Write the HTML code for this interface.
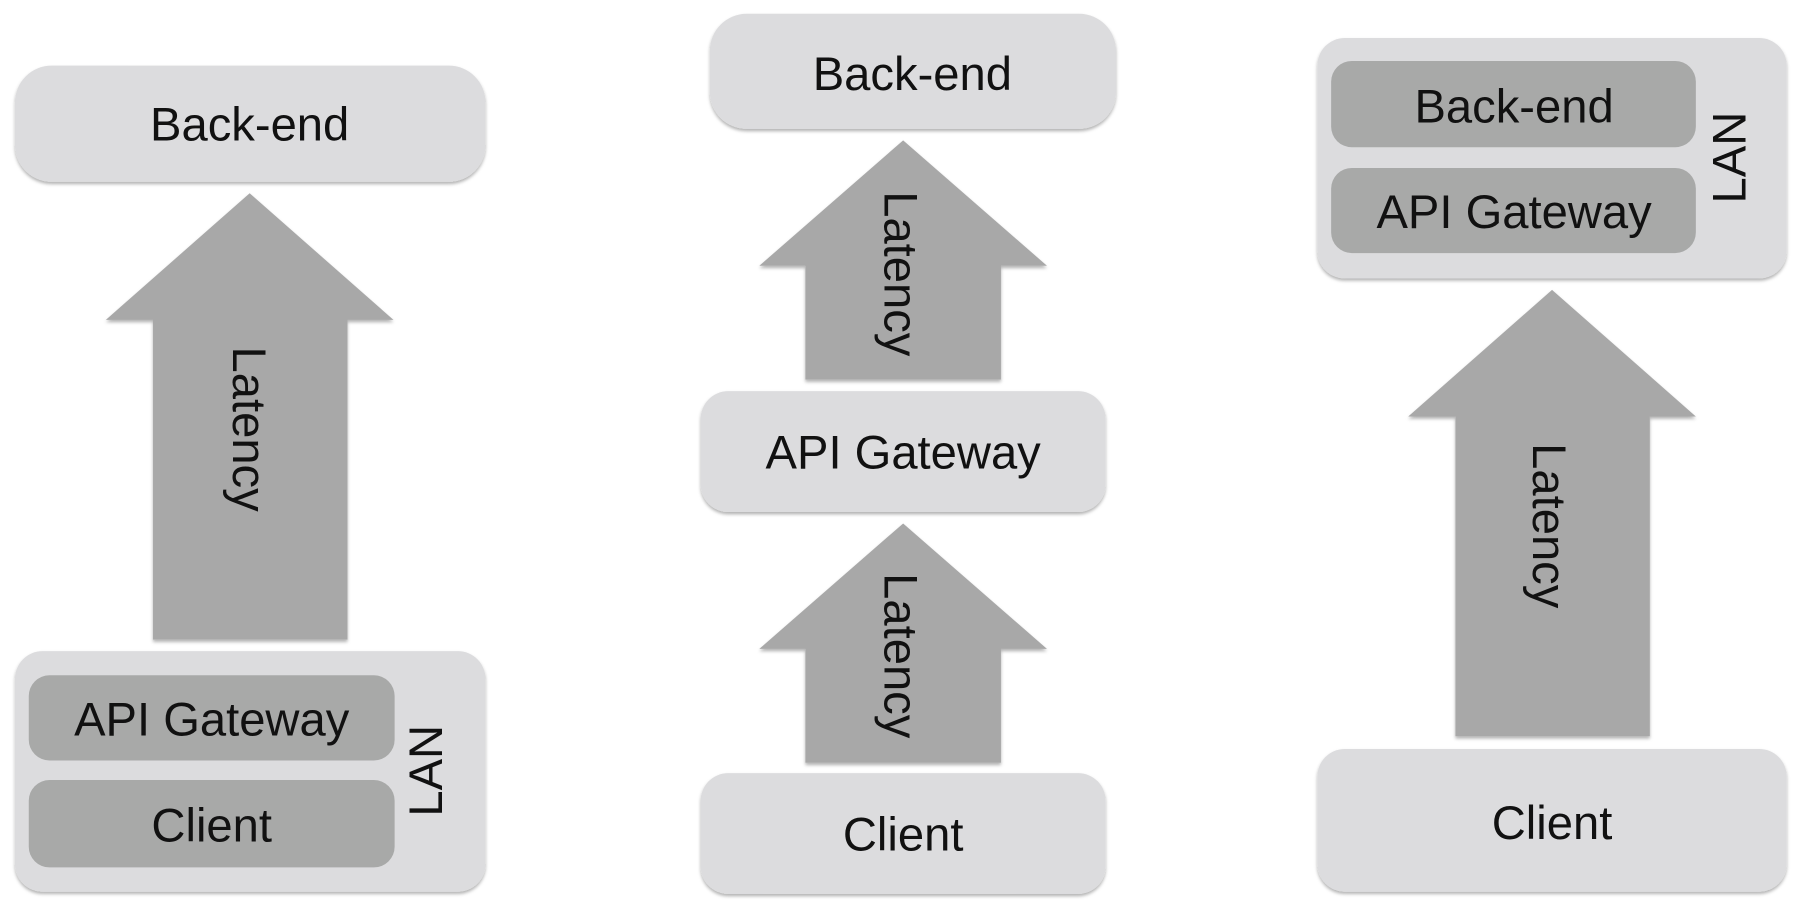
<!DOCTYPE html>
<html><head><meta charset="utf-8"><style>
html,body{margin:0;padding:0;background:#fff;}
svg{display:block;}
text{font-family:"Liberation Sans",sans-serif;fill:#111;}
</style></head><body>
<svg width="1804" height="910" viewBox="0 0 1568 791" preserveAspectRatio="none" xmlns="http://www.w3.org/2000/svg">
<defs>
<filter id="sh" x="-10%" y="-10%" width="120%" height="130%">
<feDropShadow dx="0" dy="2" stdDeviation="1.5" flood-color="#000" flood-opacity="0.3"/>
</filter>
</defs>
<g filter="url(#sh)">
<!-- Panel 1 -->
<rect x="13" y="57" width="409" height="101" rx="32" fill="#dcdcde"/>
<polygon points="217,168 342,278 302,278 302,556 133,556 133,278 92,278" fill="#a8a8a8"/>
<rect x="13" y="566" width="409" height="209" rx="24" fill="#dcdcde"/>
<rect x="25" y="587" width="318" height="74" rx="18" fill="#a8a9a8"/>
<rect x="25" y="678" width="318" height="76" rx="18" fill="#a8a9a8"/>
<!-- Panel 2 -->
<rect x="617" y="12" width="353" height="100" rx="32" fill="#dcdcde"/>
<polygon points="785,122 910,231 870,231 870,330 700,330 700,231 660,231" fill="#a8a8a8"/>
<rect x="609" y="340" width="352" height="105" rx="24" fill="#dcdcde"/>
<polygon points="785,455 910,564 870,564 870,663 700,663 700,564 660,564" fill="#a8a8a8"/>
<rect x="609" y="672" width="352" height="105" rx="24" fill="#dcdcde"/>
<!-- Panel 3 -->
<rect x="1145" y="33" width="408" height="209" rx="24" fill="#dcdcde"/>
<rect x="1157" y="53" width="317" height="75" rx="18" fill="#a8a9a8"/>
<rect x="1157" y="146" width="317" height="74" rx="18" fill="#a8a9a8"/>
<polygon points="1349,252 1474,362 1434,362 1434,640 1265,640 1265,362 1224,362" fill="#a8a8a8"/>
<rect x="1145" y="651" width="408" height="124" rx="24" fill="#dcdcde"/>
</g>
<g font-size="41" text-anchor="middle" dominant-baseline="central">
<text x="217" y="108">Back-end</text>
<text x="184" y="625">API Gateway</text>
<text x="184" y="717">Client</text>
<text transform="translate(217,373) rotate(90)">Latency</text>
<text transform="translate(370,670) rotate(-90)">LAN</text>

<text x="793" y="64">Back-end</text>
<text transform="translate(783,238) rotate(90)">Latency</text>
<text x="785" y="393">API Gateway</text>
<text transform="translate(783,570) rotate(90)">Latency</text>
<text x="785" y="725">Client</text>

<text x="1316" y="92">Back-end</text>
<text x="1316" y="184">API Gateway</text>
<text transform="translate(1503,137) rotate(-90)">LAN</text>
<text transform="translate(1347,457) rotate(90)">Latency</text>
<text x="1349" y="715">Client</text>
</g>
</svg>
</body></html>
